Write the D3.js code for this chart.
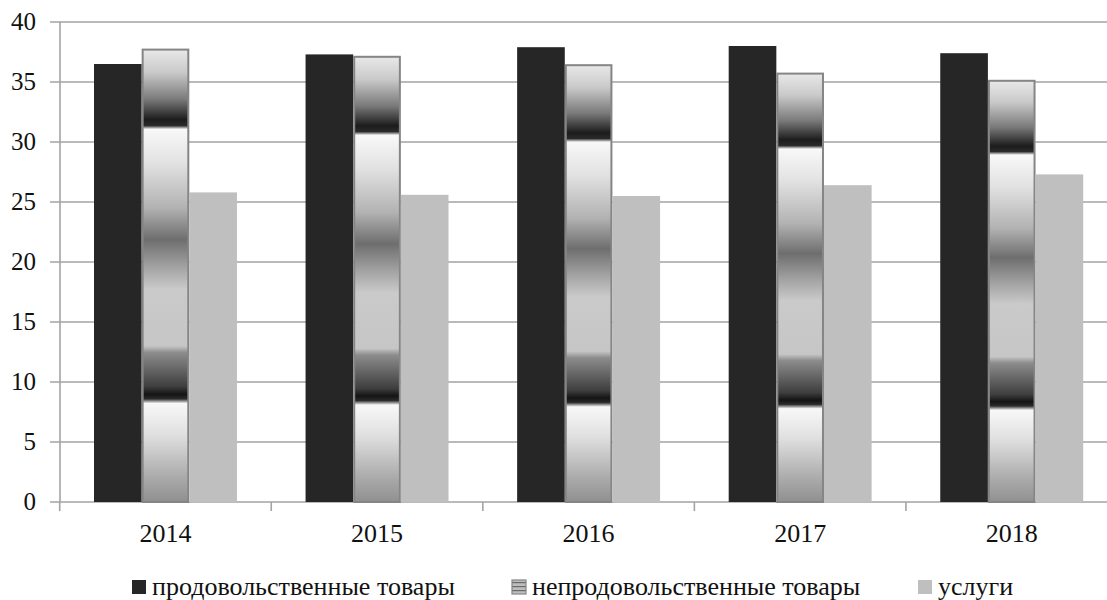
<!DOCTYPE html>
<html><head><meta charset="utf-8">
<script src="https://cdn.jsdelivr.net/npm/d3@7"></script>
<style>
html,body{margin:0;padding:0;background:#fff;}
svg{display:block;}
svg text{font-family:"Liberation Serif","Times New Roman",Times,"DejaVu Serif",serif;}
</style></head>
<body>
<svg id="chart" width="1107" height="600"></svg>
<script>
const years = ["2014","2015","2016","2017","2018"];
const seriesNames = ["продовольственные товары","непродовольственные товары","услуги"];
const food = [36.5, 37.3, 37.9, 38.0, 37.4];
const nonfood = [37.7, 37.1, 36.4, 35.7, 35.1];
const services = [25.8, 25.6, 25.5, 26.4, 27.3];
const yTicks = [0,5,10,15,20,25,30,35,40];

const FONT = "'Liberation Serif', 'Times New Roman', Times, 'DejaVu Serif', serif";
const seriesValues = [food, nonfood, services];
const svg = d3.select("#chart");

const x0 = d3.scaleBand().domain(years).range([59.7, 1117.5]).paddingInner(0).paddingOuter(0);
const x1 = d3.scaleBand().domain(seriesNames).range([0, x0.bandwidth()]).paddingInner(0).paddingOuter(0.72);
const y = d3.scaleLinear().domain([0,40]).range([502,22]);

const defs = svg.append("defs");
const grad = defs.append("linearGradient").attr("id","chrome")
  .attr("x1",0).attr("y1",0).attr("x2",0).attr("y2",1);
const stops = [
  [0,"#e8e8e8"],[0.05,"#cacaca"],[0.11,"#7a7a7a"],[0.155,"#1c1c1c"],[0.168,"#2a2a2a"],
  [0.176,"#f8f8f8"],[0.25,"#e2e2e2"],[0.35,"#b2b2b2"],[0.42,"#6e6e6e"],[0.48,"#a2a2a2"],
  [0.53,"#cacaca"],[0.655,"#c6c6c6"],[0.67,"#8c8c8c"],[0.745,"#3e3e3e"],[0.762,"#141414"],
  [0.772,"#2a2a2a"],[0.782,"#f8f8f8"],[0.85,"#e0e0e0"],[0.95,"#a8a8a8"],[1,"#909090"]
];
stops.forEach(s=>grad.append("stop").attr("offset",s[0]).attr("stop-color",s[1]));

const legPat = defs.append("pattern").attr("id","legpat").attr("width",14).attr("height",4)
  .attr("patternUnits","userSpaceOnUse");
legPat.append("rect").attr("width",14).attr("height",4).attr("fill","#bdbdbd");
legPat.append("rect").attr("y",2).attr("width",14).attr("height",1.2).attr("fill","#6a6a6a");

// gridlines
svg.append("g").selectAll("line").data(yTicks).join("line")
  .attr("x1",50).attr("x2",1107)
  .attr("y1",d=>y(d)).attr("y2",d=>y(d))
  .attr("stroke","#a3a3a3").attr("stroke-width",1.6);

// y axis line
svg.append("line").attr("x1",60).attr("x2",60).attr("y1",y(40)).attr("y2",y(0))
  .attr("stroke","#a3a3a3").attr("stroke-width",1.6);

// x ticks at category boundaries
const bounds = years.map(d=>x0(d)).concat([x0(years[years.length-1])+x0.bandwidth()]);
svg.append("g").selectAll("line").data(bounds).join("line")
  .attr("x1",d=>d).attr("x2",d=>d).attr("y1",y(0)).attr("y2",y(0)+9)
  .attr("stroke","#a3a3a3").attr("stroke-width",1.6);

// bars
const fills = ["#262626","url(#chrome)","#bfbfbf"];
seriesNames.forEach((s,si)=>{
  svg.append("g").selectAll("rect").data(seriesValues[si]).join("rect")
    .attr("x",(d,i)=>x0(years[i])+x1(s) + (si===1?1:0))
    .attr("width",x1.bandwidth() - (si===1?2:0))
    .attr("y",d=>y(d))
    .attr("height",d=>y(0)-y(d))
    .attr("fill",fills[si])
    .attr("stroke",si===1?"#858585":"none")
    .attr("stroke-width",si===1?2:0);
});

// y tick labels
svg.append("g").selectAll("text").data(yTicks).join("text")
  .attr("x",36).attr("y",d=>y(d)+8)
  .attr("text-anchor","end").attr("font-size",25).attr("font-family",FONT).attr("fill","#111")
  .text(d=>d);

// x labels
svg.append("g").selectAll("text").data(years).join("text")
  .attr("x",d=>x0(d)+x0.bandwidth()/2).attr("y",542)
  .attr("text-anchor","middle").attr("font-size",26).attr("font-family",FONT).attr("fill","#111")
  .text(d=>d);

// legend
const legX = [132, 512, 918];
const leg = svg.append("g");
seriesNames.forEach((s,i)=>{
  leg.append("rect").attr("x",legX[i]).attr("y",580).attr("width",14).attr("height",14)
    .attr("fill", i===0?"#262626":(i===1?"url(#legpat)":"#bfbfbf"))
    .attr("stroke", i===1?"#858585":"none").attr("stroke-width",1.2);
  leg.append("text").attr("x",legX[i]+20).attr("y",595).attr("font-size",26).attr("font-family",FONT).attr("fill","#111")
    .text(s);
});
</script>
</body></html>
